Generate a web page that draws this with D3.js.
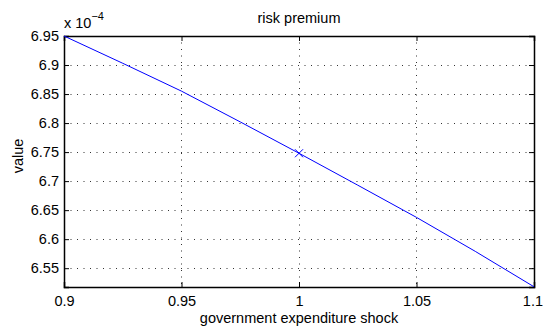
<!DOCTYPE html>
<html><head><meta charset="utf-8">
<script src="https://cdn.jsdelivr.net/npm/d3@7"></script>
<style>body{margin:0;background:#fff}text{font-family:"Liberation Sans",Arial,Helvetica,sans-serif;fill:#000}</style>
</head><body><svg id="c" width="543" height="327"></svg>
<script>
const shock = [0.9, 0.925, 0.95, 0.975, 1.0, 1.025, 1.05, 1.075, 1.1];
const premium = [6.95, 6.903, 6.855, 6.802, 6.748, 6.693, 6.6375, 6.579, 6.518];
const markerX = [1.0];
const markerY = [6.748];
const xTicks = [0.9, 0.95, 1, 1.05, 1.1];
const yTicks = [6.55, 6.6, 6.65, 6.7, 6.75, 6.8, 6.85, 6.9, 6.95];
const yDomain = [6.5176, 6.95];

const svg = d3.select("#c");
const L = 64, R = 534, T = 36, B = 287;
const x = d3.scaleLinear().domain([0.9, 1.1]).range([L, R]);
const y = d3.scaleLinear().domain(yDomain).range([B, T]);

// grid
const g = svg.append("g");
g.selectAll(".vg").data(xTicks.slice(1, -1)).join("line")
  .attr("x1", d => Math.round(x(d)) + 0.5).attr("x2", d => Math.round(x(d)) + 0.5)
  .attr("y1", T).attr("y2", B).attr("stroke", "#333").attr("stroke-width", 1).attr("stroke-dasharray", "1,5.5");
g.selectAll(".hg").data(yTicks.slice(0, -1)).join("line")
  .attr("y1", d => Math.round(y(d)) + 0.5).attr("y2", d => Math.round(y(d)) + 0.5)
  .attr("x1", L).attr("x2", R).attr("stroke", "#333").attr("stroke-width", 1).attr("stroke-dasharray", "1,5.5");

// axes
const fs = "14.5px";
const ax = svg.append("g").attr("transform", `translate(0,${B})`)
  .call(d3.axisBottom(x).tickValues(xTicks).tickSize(-5).tickPadding(9).tickFormat(d3.format("")));
const ay = svg.append("g").attr("transform", `translate(${L},0)`)
  .call(d3.axisLeft(y).tickValues(yTicks).tickSize(-5).tickPadding(5).tickFormat(d3.format("")));
const axT = svg.append("g").attr("transform", `translate(0,${T})`)
  .call(d3.axisTop(x).tickValues(xTicks).tickSize(-5).tickFormat(""));
const ayR = svg.append("g").attr("transform", `translate(${R},0)`)
  .call(d3.axisRight(y).tickValues(yTicks).tickSize(-5).tickFormat(""));
[ax, ay, axT, ayR].forEach(a => {
  a.selectAll("path").attr("stroke", "#000").attr("stroke-width", 1.5);
  a.selectAll("line").attr("stroke", "#000");
  a.selectAll("text").style("font-size", fs).style("font-family", "Liberation Sans, Arial, sans-serif").attr("fill", "#000");
});
// keep the last x tick label inside the window
ax.selectAll(".tick").filter(d => d === xTicks[xTicks.length - 1]).select("text")
  .attr("text-anchor", "end").attr("x", 8.5);

// line
const line = d3.line().x((d, i) => x(shock[i])).y(d => y(d));
svg.append("path").datum(premium).attr("d", line).attr("fill", "none").attr("stroke", "#0000ff").attr("stroke-width", 1);

// marker
svg.selectAll(".mk").data(markerX).join("path")
  .attr("transform", (d, i) => `translate(${x(d)},${y(markerY[i])})`)
  .attr("d", "M-4,-4L4,4M-4,4L4,-4").attr("stroke", "#0000ff").attr("stroke-width", 1).attr("fill", "none");

// labels
svg.append("text").attr("x", (L + R) / 2).attr("y", 23).attr("text-anchor", "middle").style("font-size", "14.5px").text("risk premium");
svg.append("text").attr("x", (L + R) / 2).attr("y", 322.5).attr("text-anchor", "middle").style("font-size", "14.5px").text("government expenditure shock");
svg.append("text").attr("transform", "translate(23,156) rotate(-90)").attr("text-anchor", "middle").style("font-size", "14.5px").text("value");
const ex = svg.append("text").attr("x", L).attr("y", 28).style("font-size", "14.5px");
ex.append("tspan").text("x 10");
ex.append("tspan").attr("dy", -8).style("font-size", "11px").text("−4");
</script></body></html>
